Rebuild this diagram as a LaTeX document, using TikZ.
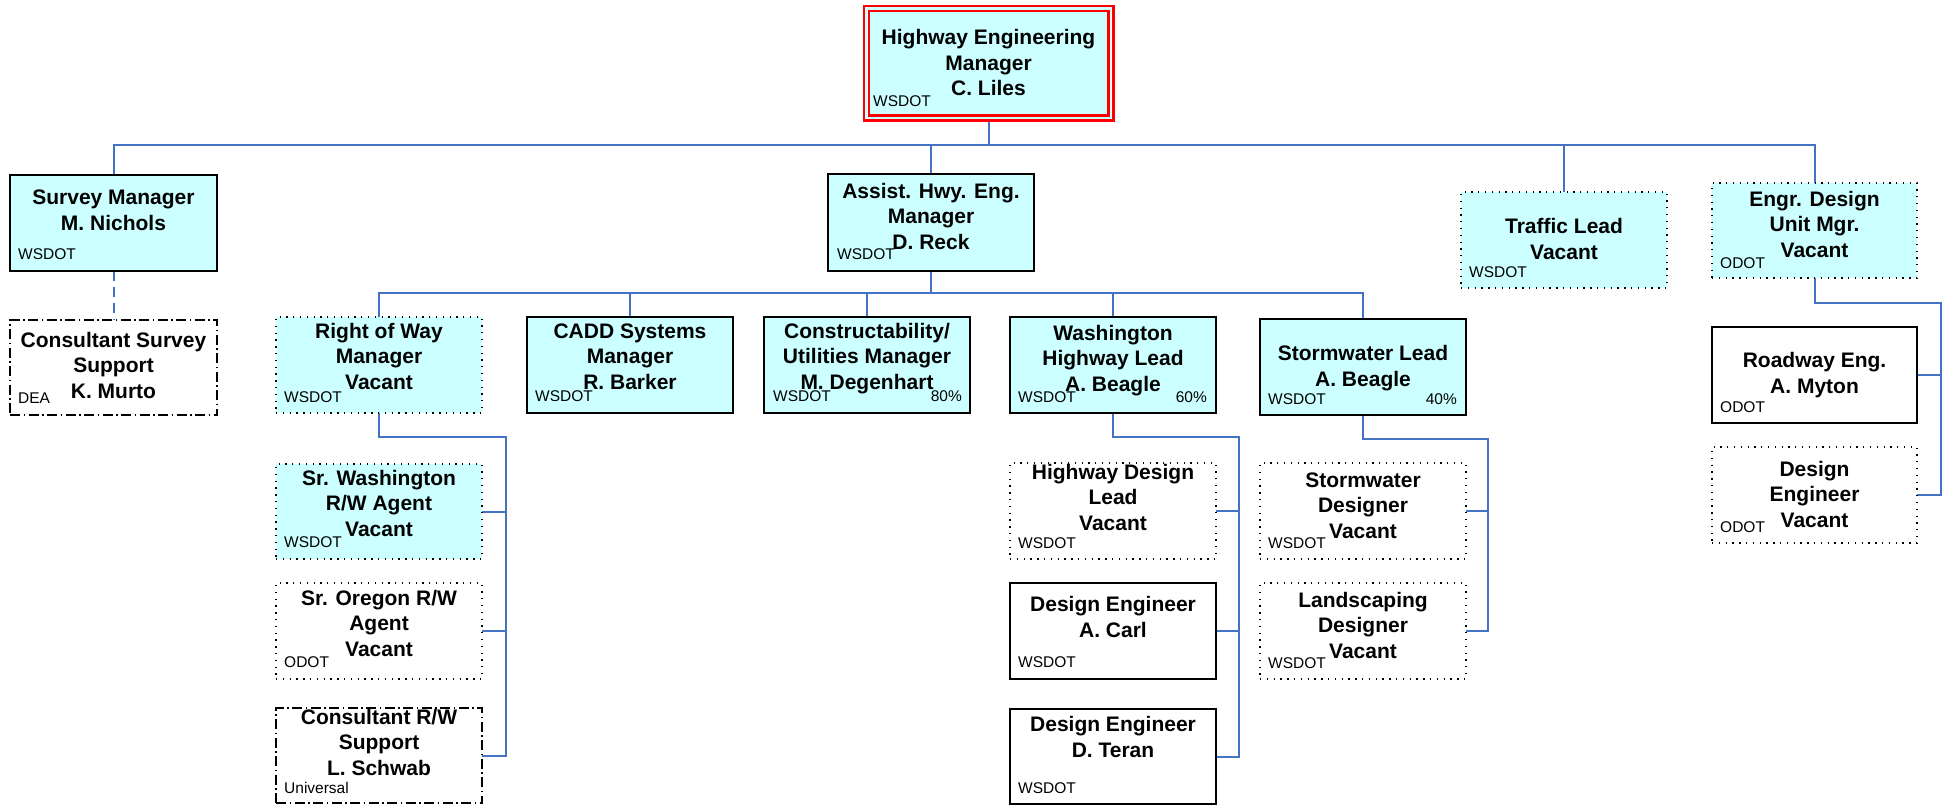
\documentclass[tikz,border=0pt]{standalone}
\usepackage{fontspec}
\setmainfont{Liberation Sans}
\usetikzlibrary{calc}
\pgfdeclarelayer{bg}
\pgfsetlayers{bg,main}

\definecolor{cyanfill}{HTML}{CCFFFF}
\definecolor{connblue}{HTML}{4472C4}
\definecolor{redline}{HTML}{FF0000}

\tikzset{
  boxbase/.style={rectangle, inner sep=0pt, outer sep=0pt, line width=1.6pt},
  solidcyan/.style={boxbase, draw=black, fill=cyanfill},
  solidwhite/.style={boxbase, draw=black, fill=white},
  dotcyan/.style={boxbase, draw=black, fill=cyanfill, line width=1.3pt, dash pattern=on 1.3pt off 5.5pt},
  dotwhite/.style={boxbase, draw=black, fill=white, line width=1.3pt, dash pattern=on 1.3pt off 5.5pt},
  dashdotbox/.style={boxbase, draw=black, fill=white, dash pattern=on 10pt off 3.5pt on 1.5pt off 3.5pt},
  topbox/.style={boxbase, draw=redline, line width=2.2pt, double=cyanfill, double distance=2.8pt, fill=cyanfill},
  maintext/.style={anchor=base, align=center, inner sep=0pt, font=\fontsize{21}{25.5}\selectfont\bfseries},
  labtext/.style={inner sep=0pt, font=\fontsize{15.5}{18}\selectfont},
  conn/.style={draw=connblue, line width=2pt},
  dashconn/.style={conn, dash pattern=on 10pt off 6pt},
}

% box: name, style, x1, y1, x2, y2
\newcommand\obox[6]{%
  \node[#2, minimum width={(#5)-(#3)}, minimum height={(#6)-(#4)}]
    (#1) at ({((#3)+(#5))/2},{((#4)+(#6))/2}) {};}
% centred title: name, x, baseline of the last line, lines
\newcommand\otext[4]{\node[maintext] (#1-t) at (#2,#3) {#4};}
% agency label: name, x, baseline, text
\newcommand\olab[4]{\node[labtext, anchor=base west] (#1-l) at (#2,#3) {#4};}
% share label: name, x, baseline, text
\newcommand\opct[4]{\node[labtext, anchor=base east] (#1-p) at (#2,#3) {#4};}

\begin{document}
\begin{tikzpicture}[x=1pt, y=-1pt]
\useasboundingbox (0,0) rectangle (1958,805);

% top position
\node[topbox, minimum width=244.5pt, minimum height=109.5pt] (hem) at (988.75,63.25) {};
\otext{hem}{988.5}{96}{Highway Engineering\\Manager\\C. Liles}
\olab{hem}{873}{107}{WSDOT}

% second tier
\obox{survey}{solidcyan}{10}{175}{217}{271}
\otext{survey}{113.5}{230}{Survey Manager\\M. Nichols}
\olab{survey}{18}{259}{WSDOT}

\obox{csurvey}{dashdotbox}{10}{320}{217}{415}
\otext{csurvey}{113.5}{398}{Consultant Survey\\Support\\K. Murto}
\olab{csurvey}{18}{403}{DEA}

\obox{assist}{solidcyan}{828}{174}{1034}{271}
\otext{assist}{931}{249}{Assist. Hwy. Eng.\\Manager\\D. Reck}
\olab{assist}{837}{259}{WSDOT}

\obox{traffic}{dotcyan}{1461}{192}{1667}{288}
\otext{traffic}{1564}{259}{Traffic Lead\\Vacant}
\olab{traffic}{1469}{277}{WSDOT}

\obox{engr}{dotcyan}{1712}{183}{1917}{278}
\otext{engr}{1814.5}{257}{Engr. Design\\Unit Mgr.\\Vacant}
\olab{engr}{1720}{268}{ODOT}

% third tier
\obox{row}{dotcyan}{276}{317}{482}{413}
\otext{row}{379}{389}{Right of Way\\Manager\\Vacant}
\olab{row}{284}{402}{WSDOT}

\obox{cadd}{solidcyan}{527}{317}{733}{413}
\otext{cadd}{630}{389}{CADD Systems\\Manager\\R. Barker}
\olab{cadd}{535}{401}{WSDOT}

\obox{constr}{solidcyan}{764}{317}{970}{413}
\otext{constr}{867}{389}{Constructability/\\Utilities Manager\\M. Degenhart}
\olab{constr}{773}{401}{WSDOT}
\opct{constr}{962}{401}{80\%}

\obox{wash}{solidcyan}{1010}{317}{1216}{413}
\otext{wash}{1113}{391}{Washington\\Highway Lead\\A. Beagle}
\olab{wash}{1018}{402}{WSDOT}
\opct{wash}{1207}{402}{60\%}

\obox{storm}{solidcyan}{1260}{319}{1466}{415}
\otext{storm}{1363}{386}{Stormwater Lead\\A. Beagle}
\olab{storm}{1268}{404}{WSDOT}
\opct{storm}{1457}{404}{40\%}

% right of way staff
\obox{srwa}{dotcyan}{276}{464}{482}{559}
\otext{srwa}{379}{536}{Sr. Washington\\R/W Agent\\Vacant}
\olab{srwa}{284}{547}{WSDOT}

\obox{sora}{dotwhite}{276}{583}{482}{679}
\otext{sora}{379}{656}{Sr. Oregon R/W\\Agent\\Vacant}
\olab{sora}{284}{667}{ODOT}

\obox{crw}{dashdotbox}{276}{708}{482}{803}
\otext{crw}{379}{775}{Consultant R/W\\Support\\L. Schwab}
\olab{crw}{284}{793}{Universal}

% highway design staff
\obox{hdl}{dotwhite}{1010}{463}{1216}{559}
\otext{hdl}{1113}{530}{Highway Design\\Lead\\Vacant}
\olab{hdl}{1018}{548}{WSDOT}

\obox{carl}{solidwhite}{1010}{583}{1216}{679}
\otext{carl}{1113}{637}{Design Engineer\\A. Carl}
\olab{carl}{1018}{667}{WSDOT}

\obox{teran}{solidwhite}{1010}{709}{1216}{804}
\otext{teran}{1113}{757}{Design Engineer\\D. Teran}
\olab{teran}{1018}{793}{WSDOT}

% stormwater staff
\obox{swd}{dotwhite}{1260}{463}{1466}{559}
\otext{swd}{1363}{538}{Stormwater\\Designer\\Vacant}
\olab{swd}{1268}{548}{WSDOT}

\obox{land}{dotwhite}{1260}{583}{1466}{679}
\otext{land}{1363}{658}{Landscaping\\Designer\\Vacant}
\olab{land}{1268}{668}{WSDOT}

% engineering design staff
\obox{road}{solidwhite}{1712}{327}{1917}{423}
\otext{road}{1814.5}{393}{Roadway Eng.\\A. Myton}
\olab{road}{1720}{412}{ODOT}

\obox{ode}{dotwhite}{1712}{447}{1917}{543}
\otext{ode}{1814.5}{527}{Design\\Engineer\\Vacant}
\olab{ode}{1720}{532}{ODOT}

% reporting lines
\coordinate (bus1) at (0,145);
\coordinate (bus2) at (0,293);
\coordinate (rwbus) at (506,437);
\coordinate (whbus) at (1239,437);
\coordinate (swbus) at (1488,439);
\coordinate (egbus) at (1941,303);

\begin{pgfonlayer}{bg}
\draw[conn] (hem.south) -- (hem.south |- bus1) -| (survey.north);
\draw[conn] (hem.south |- bus1) -| (assist.north);
\draw[conn] (hem.south |- bus1) -| (traffic.north);
\draw[conn] (hem.south |- bus1) -| (engr.north);
\draw[dashconn] (survey.south) -- (csurvey.north);

\draw[conn] (assist.south) -- (assist.south |- bus2) -| (row.north);
\draw[conn] (assist.south |- bus2) -| (cadd.north);
\draw[conn] (assist.south |- bus2) -| (constr.north);
\draw[conn] (assist.south |- bus2) -| (wash.north);
\draw[conn] (assist.south |- bus2) -| (storm.north);

\draw[conn] (row.south) |- (rwbus) |- (crw.east);
\draw[conn] (srwa.east) -- (srwa.east -| rwbus);
\draw[conn] (sora.east) -- (sora.east -| rwbus);

\draw[conn] (wash.south) |- (whbus) |- (teran.east);
\draw[conn] (hdl.east) -- (hdl.east -| whbus);
\draw[conn] (carl.east) -- (carl.east -| whbus);

\draw[conn] (storm.south) |- (swbus) |- (land.east);
\draw[conn] (swd.east) -- (swd.east -| swbus);

\draw[conn] (engr.south) |- (egbus) |- (ode.east);
\draw[conn] (road.east) -- (road.east -| egbus);
\end{pgfonlayer}
\end{tikzpicture}
\end{document}
